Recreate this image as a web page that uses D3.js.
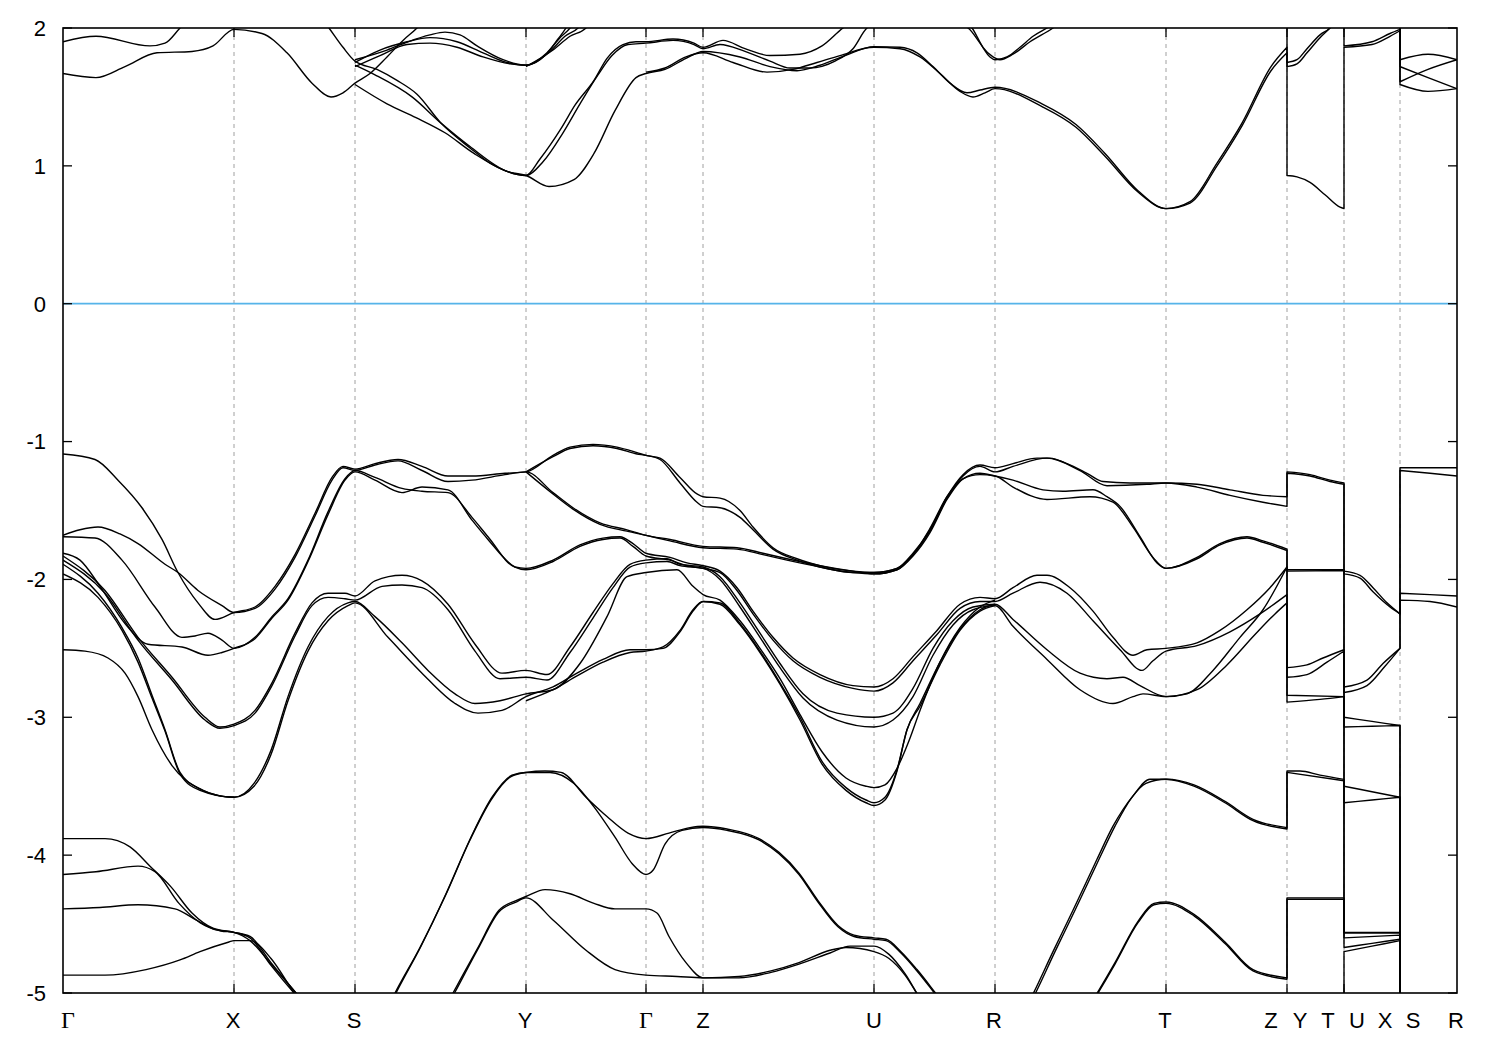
<!DOCTYPE html>
<html><head><meta charset="utf-8"><title>Band structure</title>
<script src="https://cdn.jsdelivr.net/npm/d3@7/dist/d3.min.js"></script>
<style>html,body{margin:0;padding:0;background:#fff;} svg{display:block;}</style>
</head><body><svg id="chart" width="1500" height="1050"></svg>
<script>
// ---- k-path (cumulative path length) and labels ----
const kPath = [0, 0.171, 0.292, 0.463, 0.583, 0.640, 0.811, 0.932, 1.103, 1.224, 1.281, 1.337, 1.394];
const kLabels = ["Γ","X","S","Y","Γ","Z","U","R","T","Z","Y","T","U","X","S","R"];
const kLabelPos = [0.005,0.170,0.291,0.462,0.583,0.640,0.811,0.931,1.102,1.208,1.237,1.265,1.294,1.322,1.350,1.393];
const energyTicks = [2,1,0,-1,-2,-3,-4,-5];
const fermiLevel = 0;

// ---- valence bands [k, E(eV)] ----
const bandVA = [[0,-1.09],[.032,-1.13],[.055,-1.28],[.079,-1.48],[.099,-1.71],[.115,-1.95],[.135,-2.17],[.152,-2.29],[.171,-2.24],
[.192,-2.20],[.212,-2.05],[.232,-1.82],[.252,-1.52],[.269,-1.26],[.280,-1.18],[.292,-1.20],
[.312,-1.16],[.335,-1.13],[.359,-1.18],[.385,-1.25],[.409,-1.25],[.442,-1.23],[.463,-1.22],
[.490,-1.10],[.507,-1.04],[.530,-1.02],[.554,-1.04],[.574,-1.08],[.583,-1.10],
[.597,-1.12],[.617,-1.26],[.634,-1.38],[.640,-1.40],
[.657,-1.41],[.677,-1.50],[.690,-1.62],[.710,-1.77],[.734,-1.85],[.757,-1.90],[.790,-1.94],[.811,-1.95],
[.834,-1.92],[.850,-1.81],[.867,-1.64],[.884,-1.40],[.900,-1.24],[.917,-1.17],[.932,-1.19],
[.950,-1.16],[.974,-1.12],[.987,-1.12],[1.004,-1.16],[1.024,-1.23],[1.040,-1.29],[1.067,-1.30],[1.103,-1.30],
[1.134,-1.31],[1.167,-1.35],[1.200,-1.39],[1.224,-1.40],
[1.224,-1.22],[1.247,-1.24],[1.267,-1.28],[1.281,-1.30],
[1.281,-1.94],[1.297,-1.97],[1.310,-2.06],[1.324,-2.17],[1.337,-2.25],
[1.337,-1.19],[1.367,-1.19],[1.394,-1.19]];

const bandVB = [[0,-1.68],[.017,-1.64],[.035,-1.62],[.057,-1.67],[.075,-1.74],[.102,-1.89],[.115,-1.95],[.135,-2.08],[.159,-2.19],[.171,-2.24],
[.192,-2.21],[.212,-2.07],[.232,-1.84],[.252,-1.54],[.269,-1.28],[.280,-1.19],[.292,-1.21],
[.312,-1.17],[.335,-1.14],[.359,-1.21],[.385,-1.29],[.409,-1.28],[.442,-1.24],[.463,-1.22],
[.490,-1.37],[.510,-1.48],[.537,-1.59],[.564,-1.64],[.583,-1.68],
[.607,-1.71],[.640,-1.76],
[.674,-1.77],[.700,-1.81],[.724,-1.85],[.757,-1.90],[.790,-1.94],[.811,-1.96],
[.834,-1.93],[.850,-1.83],[.867,-1.66],[.884,-1.42],[.900,-1.27],[.917,-1.23],[.932,-1.25],
[.950,-1.28],[.980,-1.35],[1.000,-1.36],[1.030,-1.35],[1.044,-1.40],[1.057,-1.47],[1.077,-1.69],[1.094,-1.88],[1.103,-1.92],
[1.134,-1.84],[1.157,-1.74],[1.184,-1.69],[1.200,-1.72],[1.224,-1.78],
[1.224,-1.93],[1.281,-1.93],
[1.281,-2.78],[1.304,-2.73],[1.320,-2.61],[1.337,-2.50],
[1.337,-2.10],[1.367,-2.11],[1.394,-2.12]];

const bandVO = [[.463,-1.22],[.490,-1.11],[.507,-1.05],[.530,-1.03],[.554,-1.05],[.574,-1.09],[.583,-1.10],
[.597,-1.13],[.617,-1.30],[.634,-1.44],[.640,-1.47],
[.657,-1.48],[.677,-1.55],[.690,-1.64],[.710,-1.78],[.734,-1.86],[.757,-1.91],[.790,-1.95],[.811,-1.96],
[.834,-1.93],[.850,-1.82],[.867,-1.65],[.884,-1.41],[.900,-1.25],[.917,-1.18],[.932,-1.22],
[.950,-1.18],[.984,-1.12],[1.017,-1.21],[1.044,-1.32],[1.084,-1.31],[1.103,-1.30],
[1.134,-1.33],[1.167,-1.39],[1.200,-1.44],[1.224,-1.47],
[1.224,-1.23],[1.247,-1.25],[1.267,-1.29],[1.281,-1.31],
[1.281,-1.96],[1.297,-1.99],[1.310,-2.09],[1.327,-2.20],[1.337,-2.25],
[1.337,-1.21],[1.367,-1.23],[1.394,-1.25]];

const bandVP = [[.463,-1.22],[.490,-1.38],[.510,-1.49],[.537,-1.60],[.564,-1.65],[.583,-1.68],
[.607,-1.72],[.640,-1.77],
[.674,-1.78],[.700,-1.82],[.724,-1.86],[.757,-1.91],[.790,-1.95],[.811,-1.95],
[.834,-1.92],[.850,-1.82],[.867,-1.63],[.884,-1.40],[.900,-1.27],[.917,-1.24],[.932,-1.25],
[.950,-1.33],[.984,-1.42],[1.027,-1.40],[1.050,-1.44],[1.070,-1.62],[1.090,-1.84],[1.103,-1.92],
[1.134,-1.85],[1.157,-1.75],[1.184,-1.70],[1.200,-1.73],[1.224,-1.79],
[1.224,-1.94],[1.281,-1.935],
[1.281,-2.82],[1.304,-2.77],[1.322,-2.63],[1.337,-2.50],
[1.337,-2.15],[1.367,-2.16],[1.394,-2.20]];

const bandVC = [[0,-1.69],[.032,-1.70],[.059,-1.86],[.092,-2.20],[.119,-2.42],[.132,-2.41],[.145,-2.39],[.159,-2.44],[.171,-2.50],
[.192,-2.42],[.209,-2.27],[.225,-2.14],[.245,-1.86],[.265,-1.51],[.282,-1.27],[.292,-1.21],
[.312,-1.26],[.339,-1.34],[.359,-1.36],[.385,-1.37],[.409,-1.55],[.425,-1.69],[.452,-1.91],[.463,-1.92],
[.490,-1.86],[.517,-1.75],[.540,-1.70],[.557,-1.69],[.570,-1.74],[.583,-1.81],
[.607,-1.84],[.624,-1.88],[.640,-1.90],
[.657,-1.94],[.674,-2.06],[.690,-2.23],[.710,-2.42],[.730,-2.57],[.757,-2.69],[.790,-2.77],[.811,-2.78],
[.830,-2.72],[.850,-2.56],[.874,-2.37],[.897,-2.18],[.917,-2.13],[.932,-2.14],
[.950,-2.06],[.974,-1.97],[.984,-1.97],[1.007,-2.06],[1.030,-2.23],[1.050,-2.42],[1.070,-2.55],[1.084,-2.51],[1.103,-2.50],
[1.134,-2.46],[1.157,-2.37],[1.184,-2.22],[1.207,-2.06],[1.224,-1.91],
[1.224,-2.64],[1.244,-2.62],[1.260,-2.57],[1.281,-2.51],
[1.281,-3.00],[1.309,-3.03],[1.337,-3.06],
[1.337,-5.5],[1.394,-5.5]];

const bandVD = [[0,-1.81],[.017,-1.86],[.037,-2.05],[.062,-2.32],[.085,-2.47],[.119,-2.49],[.145,-2.55],[.159,-2.53],[.171,-2.50],
[.192,-2.43],[.209,-2.28],[.225,-2.15],[.245,-1.87],[.265,-1.53],[.282,-1.28],[.292,-1.22],
[.312,-1.28],[.339,-1.37],[.359,-1.33],[.385,-1.35],[.409,-1.57],[.425,-1.71],[.452,-1.91],[.463,-1.93],
[.490,-1.87],[.517,-1.76],[.540,-1.71],[.557,-1.70],[.570,-1.76],[.583,-1.83],
[.607,-1.86],[.624,-1.90],[.640,-1.92],
[.657,-1.95],[.674,-2.08],[.690,-2.25],[.710,-2.44],[.730,-2.59],[.757,-2.71],[.790,-2.79],[.811,-2.81],
[.830,-2.75],[.850,-2.59],[.874,-2.40],[.897,-2.21],[.917,-2.16],[.932,-2.16],
[.950,-2.10],[.977,-2.02],[1.004,-2.10],[1.030,-2.30],[1.057,-2.51],[1.079,-2.66],[1.090,-2.59],[1.103,-2.52],
[1.134,-2.48],[1.167,-2.38],[1.197,-2.25],[1.224,-2.11],
[1.224,-2.84],[1.281,-2.85],
[1.281,-3.50],[1.309,-3.54],[1.337,-3.58],
[1.337,-5.5],[1.394,-5.5]];

const bandVE = [[0,-1.83],[.042,-2.08],[.075,-2.42],[.109,-2.71],[.142,-3.00],[.157,-3.07],[.171,-3.05],
[.192,-2.95],[.209,-2.75],[.232,-2.39],[.249,-2.17],[.265,-2.10],[.282,-2.10],[.292,-2.12],
[.312,-2.01],[.339,-1.97],[.359,-2.01],[.385,-2.18],[.412,-2.47],[.439,-2.68],[.463,-2.66],
[.484,-2.69],[.507,-2.49],[.530,-2.24],[.550,-2.03],[.567,-1.89],[.583,-1.86],
[.604,-1.85],[.617,-1.89],[.640,-1.91],
[.657,-1.98],[.677,-2.17],[.697,-2.39],[.717,-2.61],[.740,-2.83],[.774,-2.97],[.811,-3.00],
[.830,-2.97],[.850,-2.79],[.870,-2.50],[.890,-2.30],[.910,-2.20],[.932,-2.18],
[.950,-2.29],[.984,-2.51],[1.017,-2.68],[1.044,-2.72],[1.060,-2.71],[1.077,-2.77],[1.103,-2.85],
[1.124,-2.83],[1.150,-2.66],[1.177,-2.42],[1.200,-2.22],[1.224,-1.91],
[1.224,-2.71],[1.244,-2.69],[1.264,-2.60],[1.281,-2.52],
[1.281,-3.07],[1.309,-3.065],[1.337,-3.06],
[1.337,-5.6],[1.394,-5.6]];

const bandVF = [[0,-1.86],[.042,-2.10],[.075,-2.44],[.109,-2.73],[.142,-3.02],[.157,-3.08],[.171,-3.06],
[.192,-2.97],[.209,-2.77],[.232,-2.41],[.249,-2.19],[.265,-2.13],[.282,-2.14],[.292,-2.15],
[.319,-2.05],[.339,-2.04],[.359,-2.06],[.385,-2.22],[.412,-2.52],[.437,-2.72],[.463,-2.71],
[.484,-2.73],[.507,-2.53],[.530,-2.28],[.550,-2.06],[.567,-1.91],[.583,-1.88],
[.604,-1.87],[.617,-1.90],[.640,-1.92],
[.657,-2.00],[.677,-2.20],[.697,-2.42],[.717,-2.64],[.740,-2.86],[.774,-3.02],[.811,-3.07],
[.830,-3.02],[.850,-2.85],[.870,-2.55],[.890,-2.33],[.910,-2.22],[.932,-2.19],
[.950,-2.34],[.984,-2.58],[1.017,-2.80],[1.050,-2.90],[1.070,-2.85],[1.080,-2.83],[1.103,-2.85],
[1.134,-2.80],[1.164,-2.62],[1.192,-2.40],[1.212,-2.25],[1.224,-2.17],
[1.224,-2.89],[1.257,-2.87],[1.281,-2.85],
[1.281,-3.62],[1.309,-3.60],[1.337,-3.58],
[1.337,-5.6],[1.394,-5.6]];

const bandVG = [[0,-1.89],[.035,-2.10],[.059,-2.35],[.075,-2.57],[.089,-2.84],[.102,-3.09],[.117,-3.40],[.137,-3.52],[.157,-3.57],[.171,-3.58],
[.191,-3.48],[.208,-3.24],[.225,-2.85],[.245,-2.49],[.265,-2.27],[.285,-2.17],[.292,-2.16],
[.312,-2.27],[.339,-2.46],[.365,-2.66],[.392,-2.83],[.412,-2.90],[.437,-2.88],[.463,-2.83],
[.490,-2.80],[.517,-2.61],[.544,-2.27],[.564,-1.98],[.583,-1.95],
[.614,-1.93],[.630,-2.05],[.640,-2.11],
[.657,-2.15],[.677,-2.30],[.697,-2.50],[.717,-2.72],[.737,-2.98],[.759,-3.25],[.783,-3.44],[.803,-3.50],[.811,-3.51],
[.822,-3.49],[.834,-3.37],[.846,-3.17],[.857,-2.95],[.877,-2.60],[.897,-2.35],[.917,-2.20],[.932,-2.15]];

const bandVH = [[0,-1.96],[.035,-2.13],[.059,-2.37],[.075,-2.60],[.089,-2.86],[.102,-3.10],[.117,-3.41],[.137,-3.53],[.171,-3.58],
[.191,-3.50],[.208,-3.27],[.225,-2.88],[.245,-2.52],[.265,-2.30],[.285,-2.19],[.292,-2.17],
[.325,-2.42],[.359,-2.68],[.392,-2.90],[.415,-2.97],[.439,-2.95],[.463,-2.85],
[.490,-2.78],[.514,-2.68],[.540,-2.58],[.567,-2.51],[.583,-2.51],
[.600,-2.50],[.617,-2.38],[.630,-2.23],[.640,-2.16],
[.657,-2.17],[.677,-2.32],[.697,-2.52],[.717,-2.75],[.737,-3.00],[.759,-3.32],[.783,-3.51],[.803,-3.60],[.811,-3.62],
[.822,-3.58],[.834,-3.38],[.844,-3.09],[.857,-2.90],[.877,-2.60],[.897,-2.36],[.917,-2.22],[.932,-2.18]];

const bandVJ = [[.463,-2.88],[.490,-2.80],[.514,-2.70],[.540,-2.60],[.567,-2.53],[.583,-2.52],
[.600,-2.49],[.617,-2.37],[.630,-2.22],[.640,-2.16],
[.657,-2.18],[.677,-2.33],[.697,-2.53],[.717,-2.76],[.737,-3.02],[.759,-3.34],[.783,-3.53],[.803,-3.62],[.811,-3.64],
[.822,-3.60],[.834,-3.39],[.844,-3.09],[.857,-2.92],[.877,-2.62],[.897,-2.37],[.917,-2.23],[.932,-2.19]];

const bandVI = [[0,-2.51],[.022,-2.52],[.045,-2.57],[.062,-2.68],[.075,-2.85],[.089,-3.09],[.109,-3.35],[.137,-3.52],[.157,-3.57],[.171,-3.58]];

const bandVK = [[0,-3.88],[.042,-3.88],[.067,-3.94],[.087,-4.08],[.108,-4.23],[.129,-4.42],[.150,-4.53],[.171,-4.56],
[.187,-4.59],[.208,-4.78],[.233,-5.0],[.257,-5.2],[.292,-5.4],
[.312,-5.3],[.332,-5.0],[.357,-4.67],[.382,-4.30],[.407,-3.89],[.428,-3.60],[.448,-3.43],[.463,-3.40],
[.482,-3.39],[.498,-3.40],[.523,-3.58],[.544,-3.72],[.565,-3.84],[.583,-3.88],
[.606,-3.84],[.627,-3.80],[.640,-3.79],
[.664,-3.81],[.696,-3.88],[.716,-3.98],[.736,-4.13],[.755,-4.33],[.775,-4.51],[.791,-4.58],[.811,-4.60],
[.823,-4.61],[.838,-4.70],[.854,-4.83],[.878,-5.05],[.907,-5.3],[.932,-5.4],
[.947,-5.3],[.969,-5.05],[.992,-4.70],[1.012,-4.40],[1.036,-4.03],[1.052,-3.79],[1.068,-3.59],[1.083,-3.48],[1.103,-3.45],
[1.131,-3.49],[1.162,-3.61],[1.190,-3.74],[1.224,-3.80],
[1.224,-3.39],[1.237,-3.39],[1.257,-3.42],[1.281,-3.45],
[1.281,-4.56],[1.337,-4.56],
[1.337,-5.7],[1.394,-5.7]];

const bandVL = [[0,-4.14],[.033,-4.12],[.075,-4.08],[.092,-4.12],[.116,-4.35],[.137,-4.49],[.158,-4.55],[.171,-4.56],
[.187,-4.60],[.208,-4.80],[.231,-5.0],[.257,-5.2],[.292,-5.42],
[.312,-5.32],[.333,-5.0],[.358,-4.66],[.383,-4.28],[.408,-3.87],[.429,-3.58],[.449,-3.42],[.463,-3.40],
[.487,-3.40],[.511,-3.48],[.531,-3.65],[.552,-3.87],[.569,-4.06],[.583,-4.14],
[.590,-4.11],[.602,-3.92],[.619,-3.82],[.640,-3.80],
[.664,-3.82],[.696,-3.89],[.716,-3.99],[.736,-4.14],[.755,-4.34],[.775,-4.52],[.791,-4.59],[.811,-4.61],
[.823,-4.62],[.838,-4.71],[.854,-4.84],[.878,-5.06],[.907,-5.3],[.932,-5.42],
[.947,-5.3],[.967,-5.05],[.990,-4.70],[1.010,-4.40],[1.034,-4.03],[1.050,-3.79],[1.070,-3.57],[1.087,-3.45],[1.103,-3.45],
[1.131,-3.50],[1.162,-3.62],[1.190,-3.75],[1.224,-3.81],
[1.224,-3.40],[1.281,-3.46],
[1.281,-4.565],[1.337,-4.565],
[1.337,-5.7],[1.394,-5.7]];

const bandVM = [[0,-4.39],[.037,-4.38],[.075,-4.36],[.112,-4.39],[.133,-4.47],[.152,-4.54],[.171,-4.56],
[.187,-4.62],[.208,-4.79],[.233,-5.0],[.260,-5.25],[.292,-5.5],
[.330,-5.5],[.367,-5.3],[.390,-5.0],[.415,-4.67],[.436,-4.40],[.453,-4.33],[.463,-4.30],
[.482,-4.25],[.507,-4.28],[.531,-4.35],[.552,-4.39],[.583,-4.39],
[.594,-4.42],[.606,-4.59],[.623,-4.78],[.640,-4.89],
[.676,-4.88],[.708,-4.84],[.736,-4.78],[.767,-4.69],[.783,-4.67],[.811,-4.70],
[.826,-4.75],[.842,-4.87],[.858,-5.05],[.887,-5.3],[.932,-5.5],
[.980,-5.5],[1.007,-5.3],[1.030,-5.05],[1.052,-4.78],[1.075,-4.48],[1.091,-4.35],[1.103,-4.34],
[1.131,-4.43],[1.162,-4.63],[1.190,-4.83],[1.224,-4.89],
[1.224,-4.31],[1.281,-4.31],
[1.281,-4.60],[1.337,-4.58],
[1.337,-5.8],[1.394,-5.8]];

const bandVN = [[0,-4.87],[.042,-4.87],[.083,-4.83],[.117,-4.76],[.137,-4.70],[.166,-4.63],[.171,-4.62],
[.187,-4.62],[.208,-4.75],[.231,-5.0],[.260,-5.3],[.292,-5.55],
[.330,-5.55],[.367,-5.32],[.390,-5.02],[.415,-4.68],[.436,-4.41],[.453,-4.34],[.463,-4.31],
[.490,-4.47],[.523,-4.69],[.552,-4.83],[.583,-4.87],
[.614,-4.88],[.640,-4.89],
[.676,-4.89],[.708,-4.85],[.736,-4.79],[.767,-4.71],[.787,-4.66],[.811,-4.66],
[.826,-4.72],[.842,-4.86],[.858,-5.05],[.887,-5.3],[.932,-5.55],
[.980,-5.55],[1.007,-5.32],[1.030,-5.06],[1.052,-4.79],[1.075,-4.49],[1.091,-4.36],[1.103,-4.35],
[1.131,-4.44],[1.162,-4.64],[1.190,-4.84],[1.224,-4.90],
[1.224,-4.32],[1.281,-4.32],
[1.281,-4.67],[1.309,-4.64],[1.337,-4.61],
[1.337,-5.8],[1.394,-5.8]];

const bandVQ = [[1.281,-5.6],[1.281,-4.70],[1.309,-4.66],[1.337,-4.62],[1.337,-5.8]];

// ---- conduction bands [k, E(eV)] ----
const bandC1 = [[0,1.90],[.033,1.94],[.087,1.87],[.102,1.89],[.117,2.0],[.137,2.15],[.171,2.25],[.217,2.3],[.247,2.18],[.266,2.0],[.280,1.86],[.292,1.76],
[.314,1.70],[.334,1.62],[.354,1.52],[.378,1.31],[.407,1.13],[.427,1.02],[.444,0.96],[.463,0.93],
[.477,1.05],[.498,1.27],[.512,1.44],[.531,1.62],[.544,1.78],[.560,1.88],[.573,1.90],[.583,1.90],
[.610,1.92],[.631,1.89],[.640,1.86],
[.660,1.91],[.682,1.85],[.707,1.80],[.737,1.81],[.759,1.87],[.780,2.0],[.807,2.12],[.857,2.12],[.905,2.0],[.917,1.89],[.927,1.79],[.932,1.77],
[.944,1.79],[.957,1.86],[.970,1.94],[.984,2.0],[1.037,2.25],[1.103,2.35],[1.167,2.3],[1.224,2.2],
[1.224,1.75],[1.234,1.77],[1.244,1.85],[1.257,1.95],[1.267,2.0],[1.281,2.15],
[1.281,2.3],[1.337,2.3],
[1.337,1.72],[1.365,1.64],[1.394,1.56]];

const bandC2 = [[0,1.67],[.033,1.64],[.062,1.72],[.094,1.82],[.129,1.83],[.150,1.87],[.171,1.99],
[.199,1.96],[.224,1.82],[.249,1.60],[.268,1.50],[.280,1.53],[.292,1.60],[.307,1.67],[.324,1.79],[.340,1.91],[.354,2.0],[.377,2.2]];

const bandC3 = [[.292,1.59],[.324,1.45],[.353,1.35],[.382,1.24],[.411,1.09],[.444,0.96],[.463,0.93],
[.486,0.85],[.511,0.90],[.531,1.09],[.552,1.40],[.573,1.64],[.583,1.67],
[.602,1.70],[.623,1.78],[.640,1.83],
[.677,1.79],[.707,1.72],[.734,1.69],[.757,1.73],[.782,1.80],[.811,1.865],
[.837,1.86],[.854,1.82],[.870,1.72],[.887,1.60],[.904,1.53],[.917,1.55],[.932,1.57],
[.979,1.45],[1.013,1.30],[1.042,1.09],[1.075,0.82],[1.103,0.69],[1.127,0.74],[1.154,1.02],[1.179,1.31],[1.208,1.72],[1.224,1.86],
[1.224,1.72],[1.234,1.74],[1.244,1.82],[1.257,1.93],[1.267,2.0],[1.281,2.1],
[1.281,1.87],[1.309,1.90],[1.327,1.96],[1.337,1.99],
[1.337,1.61],[1.365,1.70],[1.394,1.77]];

const bandC4 = [[.292,1.73],[.312,1.66],[.349,1.50],[.378,1.31],[.407,1.14],[.444,0.96],[.463,0.93],
[.480,1.03],[.500,1.24],[.517,1.45],[.535,1.66],[.549,1.80],[.565,1.88],[.583,1.89],
[.610,1.91],[.631,1.88],[.640,1.85],
[.657,1.88],[.682,1.83],[.707,1.76],[.727,1.71],[.747,1.71],[.772,1.76],[.790,1.85],[.804,2.0],[.837,2.1],[.887,2.1],[.909,2.0],[.920,1.86],[.930,1.79],[.937,1.77],
[.950,1.81],[.967,1.90],[.990,2.0],[1.037,2.3],[1.103,2.4],[1.224,2.3],
[1.224,2.25],[1.281,2.35],
[1.281,2.4],[1.337,2.4],
[1.337,1.77],[1.365,1.81],[1.394,1.77]];

const bandC5 = [[.583,1.68],[.602,1.71],[.623,1.79],[.640,1.82],
[.670,1.75],[.704,1.68],[.730,1.70],[.754,1.75],[.777,1.80],[.811,1.86],
[.837,1.85],[.857,1.79],[.877,1.67],[.897,1.54],[.910,1.50],[.922,1.53],[.932,1.56],
[.979,1.43],[1.013,1.28],[1.042,1.07],[1.075,0.81],[1.103,0.69],[1.127,0.73],[1.154,1.00],[1.179,1.29],[1.208,1.69],[1.224,1.82],
[1.224,0.93],[1.234,0.92],[1.247,0.88],[1.262,0.79],[1.277,0.70],[1.281,0.69],
[1.281,1.86],[1.309,1.88],[1.327,1.94],[1.337,1.98],
[1.337,1.59],[1.365,1.54],[1.394,1.56]];

const bandH1 = [[.292,1.77],[.324,1.84],[.345,1.90],[.367,1.95],[.382,1.97],[.397,1.95],[.414,1.87],[.440,1.77],[.463,1.73],[.482,1.80],[.495,1.92],[.503,2.0],[.517,2.2]];
const bandH2 = [[.292,1.75],[.317,1.84],[.344,1.90],[.367,1.93],[.394,1.90],[.420,1.82],[.444,1.75],[.463,1.73],[.484,1.82],[.497,1.93],[.507,2.0],[.522,2.2]];
const bandH3 = [[.292,1.72],[.317,1.80],[.344,1.88],[.367,1.89],[.394,1.86],[.420,1.79],[.447,1.74],[.463,1.73],[.487,1.83],[.502,1.94],[.515,2.0],[.532,2.2]];
const bandH4 = [[.463,1.72],[.490,1.84],[.507,1.94],[.523,2.0],[.537,2.2]];

const valenceBands = [bandVA,bandVB,bandVO,bandVP,bandVC,bandVD,bandVE,bandVF,bandVG,bandVH,bandVJ,bandVI,bandVK,bandVL,bandVM,bandVN,bandVQ];
const conductionBands = [bandC1,bandC2,bandC3,bandC4,bandC5,bandH1,bandH2,bandH3,bandH4];

// ---- drawing ----
const W = 1500, H = 1050;
const margin = {left: 63, right: 43, top: 28, bottom: 57};
const svg = d3.select("#chart");
const x = d3.scaleLinear().domain([kPath[0], kPath[kPath.length-1]]).range([margin.left, W - margin.right]);
const y = d3.scaleLinear().domain([-5, 2]).range([H - margin.bottom, margin.top]);
const x0 = x.range()[0], x1 = x.range()[1], yTop = y.range()[1], yBot = y.range()[0];

svg.append("defs").append("clipPath").attr("id","plotclip")
  .append("rect").attr("x", x0).attr("y", yTop).attr("width", x1 - x0).attr("height", yBot - yTop);

// vertical dashed grid at interior high-symmetry points
svg.append("g").selectAll("line").data(kPath.slice(1, -1)).join("line")
  .attr("x1", d => x(d)).attr("x2", d => x(d))
  .attr("y1", yTop).attr("y2", yBot)
  .attr("stroke", "#a0a0a0").attr("stroke-width", 1).attr("stroke-dasharray", "4,4");

// Fermi level
svg.append("line").attr("x1", x0).attr("x2", x1)
  .attr("y1", y(fermiLevel)).attr("y2", y(fermiLevel))
  .attr("stroke", "#56b4e9").attr("stroke-width", 1.8);

// band path builder: monotone curve within runs, straight jumps where k repeats
const curveGen = d3.line().x(d => x(d[0])).y(d => y(d[1])).curve(d3.curveMonotoneX);
function bandPath(pts) {
  const runs = [];
  let cur = [pts[0]];
  for (let i = 1; i < pts.length; i++) {
    if (pts[i][0] <= pts[i-1][0]) { runs.push(cur); cur = [pts[i]]; }
    else cur.push(pts[i]);
  }
  runs.push(cur);
  return runs.map((r, i) => {
    let s;
    if (r.length === 1) s = "M" + x(r[0][0]) + "," + y(r[0][1]);
    else s = curveGen(r);
    return i ? "L" + s.slice(1) : s;
  }).join("");
}

const gBands = svg.append("g").attr("clip-path", "url(#plotclip)");
gBands.selectAll("path.band").data(valenceBands.concat(conductionBands)).join("path")
  .attr("class", "band")
  .attr("d", d => bandPath(d))
  .attr("fill", "none").attr("stroke", "#000").attr("stroke-width", 1.4)
  .attr("stroke-linejoin", "round");

// frame
svg.append("rect").attr("x", x0).attr("y", yTop).attr("width", x1 - x0).attr("height", yBot - yTop)
  .attr("fill", "none").attr("stroke", "#000").attr("stroke-width", 1.6);

// ticks
const tickLen = 9;
const gT = svg.append("g").attr("stroke", "#000").attr("stroke-width", 1.3);
kPath.slice(1, -1).forEach(k => {
  gT.append("line").attr("x1", x(k)).attr("x2", x(k)).attr("y1", yBot).attr("y2", yBot - tickLen);
  gT.append("line").attr("x1", x(k)).attr("x2", x(k)).attr("y1", yTop).attr("y2", yTop + tickLen);
});
energyTicks.forEach(e => {
  gT.append("line").attr("x1", x0).attr("x2", x0 + tickLen).attr("y1", y(e)).attr("y2", y(e));
  gT.append("line").attr("x1", x1).attr("x2", x1 - tickLen).attr("y1", y(e)).attr("y2", y(e));
});

// y tick labels
svg.append("g").selectAll("text").data(energyTicks).join("text")
  .attr("x", x0 - 17).attr("y", d => y(d)).attr("dy", "0.36em")
  .attr("text-anchor", "end")
  .attr("font-family", "'Liberation Sans', Arial, sans-serif").attr("font-size", 22)
  .attr("fill", "#000")
  .text(d => String(d));

// k-point labels
svg.append("g").selectAll("text").data(kLabels).join("text")
  .attr("x", (d, i) => x(kLabelPos[i])).attr("y", 1028)
  .attr("text-anchor", "middle")
  .attr("font-family", d => d === "Γ" ? "'Liberation Serif', 'DejaVu Serif', serif" : "'Liberation Sans', Arial, sans-serif")
  .attr("font-size", d => d === "Γ" ? 24 : 22)
  .attr("fill", "#000")
  .text(d => d);
</script>
</body></html>
